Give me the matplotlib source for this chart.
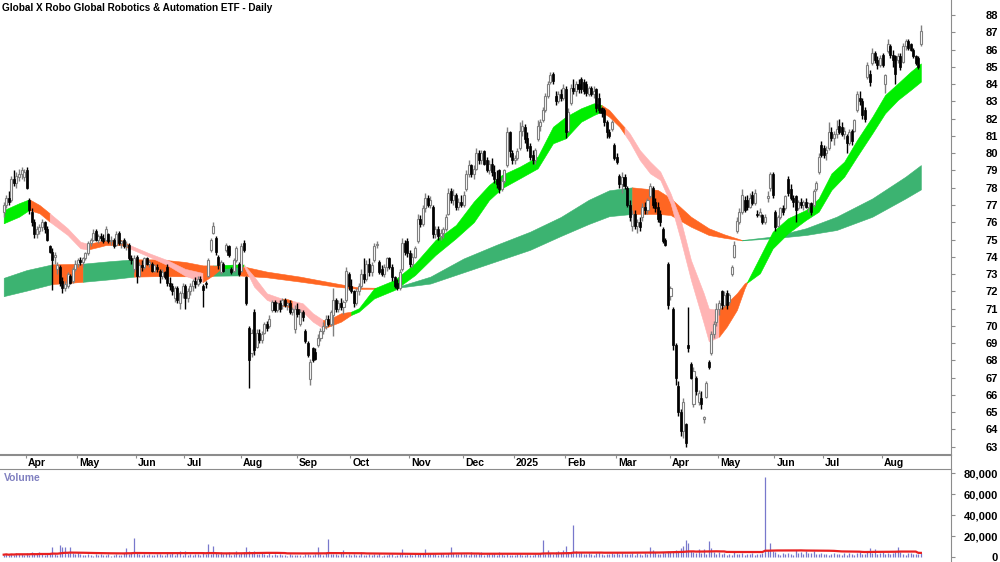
#-----------------------------------------------------------------------------#
# Global X Robo Global Robotics & Automation ETF - daily candles with
# trend ribbons and volume (Mar 2024 - Aug 2025)
#-----------------------------------------------------------------------------#

import numpy as np
import pandas as pd
import matplotlib
matplotlib.use('Agg')
import matplotlib.pyplot as plt
from matplotlib.lines import Line2D
from matplotlib.ticker import FuncFormatter
from matplotlib.transforms import blended_transform_factory

plt.rcParams['font.family'] = ['Liberation Sans', 'DejaVu Sans']
plt.rcParams['font.weight'] = 'bold'

#-----------------------------------------------------------------------------#
# Price data, one value per trading day
#-----------------------------------------------------------------------------#

opens = [
    76.6, 77.0, 77.4, 77.3, 78.5, 78.3, 78.6, 78.8, 78.6,  # Mar 24
    79.0, 77.3, 76.6, 76.0, 75.3, 75.5, 75.7, 76.0, 75.6, 74.6, 74.3, 74.0, 73.3, 73.4, 72.6, 72.2, 72.3, 72.9, 72.6, 73.3, 73.6, 73.8,
    73.7, 73.9, 74.2, 74.8, 75.0, 75.5, 75.0, 75.2, 75.1, 75.0, 75.3, 74.9, 75.0, 74.7, 75.4, 74.8, 75.0, 74.6, 74.7, 73.9, 73.3, 74.0,
    72.9, 73.5, 73.4, 73.9, 73.6, 73.6, 73.2, 73.4, 73.2, 72.9, 73.1, 73.4, 72.5, 72.3, 71.6, 72.2, 71.3, 71.9, 72.3,
    71.6, 72.0, 72.3, 72.6, 72.4, 72.7, 72.3, 72.5, 72.9, 74.4, 75.4, 75.1, 74.0, 73.1, 73.6, 74.4, 74.6, 73.3, 73.2, 73.8, 73.6, 73.2,
    74.8, 72.8, 69.9, 68.4, 70.8, 68.8, 69.6, 69.2, 69.6, 70.1, 70.0, 70.9, 71.4, 70.9, 71.3, 71.2, 71.5, 71.2, 71.3, 70.8, 69.8, 71.0,
    70.1, 70.8, 69.7, 69.0, 66.9, 68.7, 68.5, 68.9, 69.3, 69.7, 70.0, 70.4, 70.1, 70.6, 71.5, 71.0, 71.3, 71.1, 71.5, 73.0,
    72.3, 72.0, 71.3, 72.0, 72.3, 73.0, 72.7, 73.6, 73.1, 73.8, 74.7, 73.7, 73.3, 73.0, 73.4, 73.9, 73.4, 72.8, 72.5, 72.2, 73.3, 74.8, 74.9,
    74.2, 73.6, 74.0, 74.9, 76.2, 75.9, 76.8, 77.4, 77.0, 76.9, 75.3, 75.6, 75.2, 75.4, 75.6, 76.5, 77.8, 77.3, 77.6, 76.9,
    77.2, 77.0, 77.9, 78.8, 79.3, 78.8, 79.1, 80.0, 79.6, 80.1, 79.6, 79.0, 79.4, 78.9, 78.5, 79.0, 77.9, 78.4, 79.3, 81.2, 80.0,
    79.6, 79.7, 80.3, 81.3, 81.5, 80.9, 80.4, 79.9, 79.6, 80.8, 81.6, 81.9, 82.5, 83.3, 84.1, 84.6, 83.3, 83.0, 83.4, 83.2,
    83.7, 81.3, 82.9, 83.8, 83.6, 84.0, 84.3, 84.1, 84.0, 83.4, 83.8, 83.4, 83.7, 83.2, 82.6, 82.5, 81.8, 81.2, 81.4,
    80.5, 79.8, 78.7, 78.2, 78.6, 78.0, 77.0, 75.8, 76.5, 75.8, 76.0, 76.3, 76.9, 76.7, 77.5, 78.0, 77.2, 76.9, 76.5, 75.6, 75.0,
    73.6, 71.7, 71.0, 68.9, 66.5, 65.0, 63.9, 64.3, 68.9, 67.8, 65.5, 67.0, 65.6, 65.8, 64.6, 65.9, 67.9, 68.4, 69.5, 70.2, 71.0,
    72.0, 71.2, 71.9, 71.4, 73.0, 74.0, 75.5, 76.0, 76.6, 77.3, 77.3, 76.9, 77.6, 77.1, 76.5, 76.4, 76.4, 76.0, 77.4, 78.0, 78.8,
    76.6, 75.8, 76.3, 76.8, 76.8, 78.5, 77.9, 77.4, 77.5, 76.8, 77.2, 77.0, 77.2, 76.9, 77.1, 77.0, 77.9, 78.9, 80.5, 80.3,
    80.0, 80.3, 81.2, 80.9, 81.1, 81.6, 81.5, 81.1, 81.0, 80.6, 81.3, 81.3, 82.5, 83.2, 83.0, 82.5, 84.4, 84.6, 85.2, 85.8, 85.4, 85.1,
    85.7, 84.0, 85.9, 86.2, 85.7, 85.6, 85.4, 85.6, 85.3, 86.2, 86.5, 86.3, 86.0, 85.6, 85.5, 86.3,
]
highs = [
    77.2, 77.6, 77.8, 78.7, 79.0, 78.9, 79.1, 79.2, 79.1,
    79.2, 77.4, 76.8, 76.2, 75.8, 75.9, 76.2, 76.1, 75.8, 74.7, 74.5, 74.3, 73.7, 73.5, 72.8, 72.6, 73.1, 73.0, 73.4, 73.8, 73.9, 74.0,
    74.0, 74.3, 74.9, 75.1, 75.6, 75.6, 75.3, 75.4, 75.3, 75.8, 75.4, 75.2, 75.1, 75.5, 75.5, 75.0, 75.1, 74.9, 74.8, 74.1, 74.1, 74.1,
    73.7, 73.8, 74.0, 74.0, 73.8, 73.7, 73.6, 73.6, 73.3, 73.3, 73.2, 73.6, 72.8, 72.5, 72.3, 72.3, 72.0, 72.5, 72.4,
    72.2, 72.5, 72.7, 72.8, 72.9, 72.9, 72.4, 72.6, 73.9, 75.1, 76.0, 75.2, 74.1, 73.8, 73.7, 74.8, 74.7, 73.4, 73.9, 74.6, 73.7, 74.8,
    75.0, 72.9, 70.0, 69.8, 71.0, 69.8, 69.8, 69.7, 70.2, 70.3, 70.6, 71.5, 71.5, 71.4, 71.5, 71.6, 71.6, 71.4, 71.5, 71.1, 71.2, 71.3,
    71.0, 70.9, 69.8, 69.1, 68.1, 68.8, 68.7, 69.5, 69.9, 70.2, 70.6, 70.6, 70.9, 72.2, 71.6, 71.5, 71.6, 71.5, 73.4, 73.1,
    72.7, 72.1, 72.2, 72.5, 73.3, 73.9, 73.8, 73.9, 73.7, 74.8, 74.9, 73.8, 73.5, 73.6, 74.0, 74.0, 73.6, 72.9, 72.7, 73.3, 75.1, 75.0, 75.1,
    74.4, 74.2, 74.6, 76.5, 76.4, 77.0, 77.7, 77.6, 77.5, 77.0, 75.8, 75.8, 75.6, 75.7, 76.5, 78.0, 78.0, 77.9, 77.7, 77.4,
    77.6, 77.8, 79.0, 79.6, 79.4, 79.3, 80.3, 80.2, 80.2, 80.2, 79.8, 79.6, 79.7, 79.3, 79.0, 79.1, 78.6, 79.1, 81.5, 81.3, 80.2,
    79.9, 80.3, 81.8, 81.9, 81.7, 81.2, 80.6, 80.2, 80.3, 81.9, 82.0, 82.7, 83.5, 84.2, 84.7, 84.7, 83.6, 83.6, 83.7, 84.0,
    83.9, 82.6, 84.0, 84.3, 84.2, 84.3, 84.4, 84.3, 84.2, 83.9, 83.9, 83.9, 83.8, 83.5, 82.7, 82.6, 81.9, 81.4, 81.9,
    80.6, 80.0, 78.8, 78.9, 78.8, 78.1, 77.3, 76.7, 76.7, 76.2, 76.3, 77.1, 77.2, 77.4, 78.3, 78.1, 77.4, 77.2, 76.7, 75.7, 75.1,
    73.7, 72.3, 71.1, 69.0, 66.8, 65.2, 65.8, 64.4, 71.1, 67.9, 67.6, 67.1, 66.3, 66.2, 64.8, 66.8, 68.0, 69.7, 70.3, 71.3, 71.5,
    72.1, 72.0, 72.1, 71.9, 73.5, 74.9, 76.3, 76.8, 77.9, 77.5, 77.6, 77.7, 77.8, 77.9, 76.7, 76.8, 76.5, 76.5, 77.8, 78.9, 78.9,
    76.7, 76.4, 76.9, 77.0, 77.6, 78.7, 78.2, 77.6, 77.6, 77.3, 77.4, 77.3, 77.4, 77.2, 77.2, 77.9, 78.4, 80.0, 80.7, 80.5,
    80.4, 81.8, 81.5, 81.3, 81.9, 82.0, 81.8, 81.5, 81.1, 81.4, 81.4, 82.0, 83.6, 83.6, 83.2, 82.7, 85.3, 84.8, 86.1, 85.9, 85.6, 85.7,
    85.8, 84.6, 86.6, 86.3, 86.0, 85.7, 85.8, 85.8, 86.4, 86.6, 86.6, 86.4, 86.1, 85.7, 85.6, 87.4,
]
lows = [
    76.3, 76.8, 77.0, 77.2, 78.1, 78.0, 78.4, 78.5, 78.4,
    77.9, 76.5, 75.8, 75.1, 75.1, 75.3, 75.5, 75.4, 74.9, 74.2, 72.1, 73.6, 73.0, 72.3, 71.9, 72.0, 72.2, 72.4, 72.5, 73.2, 73.4, 73.5,
    73.4, 73.8, 74.1, 74.6, 74.9, 74.9, 74.8, 74.9, 74.8, 74.9, 74.8, 74.7, 74.5, 74.6, 74.7, 74.5, 74.5, 74.4, 73.8, 73.6, 73.1, 72.5,
    72.8, 73.2, 73.3, 73.5, 73.4, 73.1, 73.1, 73.1, 72.5, 72.7, 72.7, 72.3, 72.1, 71.8, 71.4, 71.3, 71.0, 71.6, 71.0,
    71.4, 71.8, 72.0, 72.2, 72.3, 72.5, 71.1, 72.2, 72.8, 74.3, 75.3, 74.1, 73.3, 73.0, 73.1, 74.3, 74.0, 73.0, 73.1, 73.7, 72.9, 73.1,
    74.3, 71.2, 66.4, 68.2, 68.3, 68.7, 69.0, 69.0, 69.5, 69.7, 69.9, 70.8, 70.8, 70.8, 70.8, 71.0, 71.1, 70.9, 70.7, 70.6, 69.6, 70.5,
    70.0, 70.3, 69.0, 68.2, 66.6, 67.9, 68.0, 68.8, 69.1, 69.5, 69.8, 70.0, 70.0, 69.4, 70.8, 70.8, 70.9, 70.7, 71.4, 72.1,
    71.9, 71.1, 71.2, 71.8, 72.2, 72.5, 72.6, 72.9, 72.9, 73.7, 74.5, 73.0, 72.9, 72.8, 73.2, 73.3, 72.6, 72.2, 72.1, 72.1, 73.2, 74.1, 74.0,
    73.4, 73.4, 73.9, 74.8, 75.7, 75.8, 76.6, 76.9, 76.8, 75.1, 75.1, 75.0, 75.0, 75.1, 75.5, 76.4, 77.1, 77.0, 76.7, 76.7,
    76.9, 76.9, 77.8, 78.6, 78.6, 78.5, 79.0, 79.4, 79.4, 79.3, 78.9, 78.8, 78.7, 78.3, 78.0, 77.7, 77.8, 78.3, 79.2, 79.8, 79.4,
    79.4, 79.6, 80.2, 81.0, 80.6, 80.1, 79.6, 79.4, 79.4, 80.7, 81.3, 81.8, 82.4, 83.2, 84.0, 84.0, 82.8, 82.9, 83.0, 83.1,
    80.9, 81.2, 82.8, 83.4, 83.3, 83.5, 83.5, 83.4, 83.3, 83.3, 83.3, 83.2, 82.4, 82.3, 82.1, 81.6, 80.9, 80.9, 81.3,
    79.6, 79.4, 78.0, 77.7, 77.9, 76.9, 76.1, 75.5, 75.6, 75.4, 75.5, 76.1, 76.5, 76.5, 77.4, 76.8, 76.6, 76.0, 75.8, 74.8, 74.6,
    71.0, 71.5, 68.6, 66.6, 64.8, 63.6, 63.5, 63.0, 68.5, 66.9, 65.3, 66.0, 65.4, 65.2, 64.4, 65.8, 67.5, 68.3, 69.3, 70.0, 70.6,
    71.0, 71.1, 71.0, 71.2, 72.9, 73.9, 75.4, 75.9, 76.5, 76.6, 76.7, 76.8, 77.0, 77.0, 76.3, 76.3, 75.9, 75.9, 77.2, 77.8, 77.4,
    75.5, 75.7, 76.2, 76.4, 76.7, 77.5, 77.3, 76.9, 76.0, 76.7, 76.8, 76.7, 76.8, 76.6, 76.4, 76.9, 77.8, 78.8, 79.8, 79.7,
    79.6, 80.2, 80.7, 80.5, 80.9, 81.1, 81.0, 80.8, 80.0, 80.5, 80.5, 81.2, 82.4, 82.8, 82.0, 81.8, 84.3, 83.9, 85.1, 85.2, 84.9, 85.0,
    85.0, 83.5, 85.8, 85.5, 85.0, 84.0, 85.2, 84.8, 85.2, 86.0, 86.0, 85.9, 85.5, 85.1, 84.9, 86.2,
]
closes = [
    77.0, 77.4, 77.2, 78.5, 78.3, 78.7, 78.8, 79.0, 78.9,
    78.0, 76.7, 76.0, 75.3, 75.6, 75.7, 76.0, 75.6, 75.0, 74.3, 73.8, 74.1, 73.5, 72.5, 72.2, 72.4, 73.0, 72.5, 73.3, 73.6, 73.8, 73.7,
    73.9, 74.2, 74.8, 75.0, 75.4, 75.0, 75.2, 75.1, 74.9, 75.6, 74.9, 75.0, 74.6, 75.3, 74.8, 74.9, 74.6, 74.7, 73.9, 73.8, 73.9, 72.9,
    73.5, 73.4, 73.9, 73.6, 73.7, 73.2, 73.5, 73.3, 72.9, 73.1, 72.8, 72.5, 72.3, 72.0, 72.2, 71.5, 71.9, 72.3, 71.6,
    72.0, 72.3, 72.6, 72.4, 72.7, 72.6, 72.1, 72.4, 73.8, 75.0, 75.8, 74.3, 73.5, 73.7, 73.2, 74.7, 74.1, 73.1, 73.8, 74.5, 73.0, 74.6,
    74.4, 71.3, 68.0, 69.6, 68.6, 69.6, 69.2, 69.5, 70.1, 69.9, 70.4, 71.4, 70.9, 71.3, 71.0, 71.5, 71.2, 71.3, 70.8, 71.0, 71.0, 70.7,
    70.8, 70.5, 69.1, 68.3, 67.9, 68.0, 68.1, 69.3, 69.7, 70.0, 70.4, 70.1, 70.8, 71.5, 71.0, 71.3, 71.1, 71.4, 73.2, 72.3,
    72.0, 71.3, 72.0, 72.3, 73.0, 72.7, 73.6, 73.1, 73.5, 74.6, 74.7, 73.1, 73.0, 73.4, 73.9, 73.4, 72.8, 72.3, 72.2, 73.1, 74.8, 74.3, 74.2,
    73.6, 74.0, 74.5, 76.2, 75.9, 76.8, 77.4, 77.0, 77.3, 75.3, 75.6, 75.2, 75.4, 75.6, 76.3, 77.7, 77.3, 77.6, 76.9, 77.2,
    77.0, 77.6, 78.8, 79.3, 78.8, 79.1, 80.0, 79.6, 80.0, 79.4, 79.0, 79.4, 78.9, 78.5, 78.2, 77.9, 78.4, 79.0, 81.2, 80.1, 79.6,
    79.7, 80.1, 81.3, 81.6, 80.8, 80.3, 79.8, 79.6, 80.2, 81.6, 81.8, 82.5, 83.3, 84.0, 84.5, 84.2, 83.0, 83.4, 83.2, 83.8,
    81.2, 82.4, 83.8, 83.6, 84.0, 83.7, 83.7, 83.6, 83.5, 83.8, 83.4, 83.6, 82.6, 82.5, 82.3, 81.8, 81.2, 81.0, 81.8,
    79.7, 79.5, 78.2, 78.6, 78.1, 77.0, 76.3, 76.5, 75.8, 76.0, 75.7, 76.9, 76.7, 77.3, 78.1, 77.0, 76.8, 76.2, 76.0, 74.9, 74.7,
    71.2, 72.2, 68.9, 67.0, 65.0, 63.9, 65.6, 63.2, 68.7, 67.0, 67.4, 66.2, 66.1, 65.5, 64.7, 66.7, 67.6, 69.5, 70.1, 71.0, 71.3,
    71.2, 71.8, 71.2, 71.8, 73.4, 74.7, 76.1, 76.6, 77.6, 76.7, 76.9, 77.4, 77.1, 77.7, 76.4, 76.6, 76.0, 76.3, 77.5, 78.8, 77.6,
    75.7, 76.3, 76.8, 76.6, 77.5, 77.7, 77.4, 77.2, 76.7, 77.2, 77.0, 77.2, 76.9, 77.1, 76.6, 77.8, 78.3, 79.8, 79.9, 79.9,
    80.2, 81.2, 80.9, 81.1, 81.4, 81.2, 81.1, 81.3, 80.6, 81.2, 80.7, 81.9, 83.4, 83.0, 82.2, 82.0, 85.1, 84.1, 85.8, 85.4, 85.1, 85.5,
    85.1, 84.5, 86.3, 85.7, 85.4, 84.6, 85.6, 85.0, 86.2, 86.5, 86.1, 86.0, 85.6, 85.2, 85.0, 87.1,
]

# volume in thousands of shares
volume_k = [
    2.5, 3.1, 1.8, 3.6, 2.2, 4.0, 2.9, 3.3, 2.0,
    3.8, 2.4, 4.6, 3.0, 2.7, 5.2, 3.4, 2.1, 4.1, 3.5, 10.2, 3.0, 2.6, 11.5, 9.8, 10.1, 4.3, 9.6, 3.9, 2.8, 5.0, 3.2,
    2.2, 1.9, 3.0, 2.5, 1.6, 2.8, 2.0, 3.3, 1.8, 2.4, 2.9, 1.7, 2.6, 3.1, 2.0, 2.3, 4.0, 9.2, 3.5, 5.1, 18.3, 4.4,
    3.0, 2.1, 2.7, 1.9, 3.4, 2.4, 2.0, 2.9, 3.6, 2.2, 1.8, 4.8, 3.1, 5.5, 2.6, 3.9, 6.0, 2.3, 5.7,
    2.4, 3.0, 2.0, 2.7, 3.5, 2.2, 4.1, 2.9, 12.2, 3.6, 10.6, 4.5, 3.2, 5.0, 2.8, 3.7, 4.6, 2.5, 3.3, 6.1, 2.9, 3.8,
    5.4, 9.4, 6.2, 4.8, 5.7, 3.6, 2.9, 4.4, 3.1, 2.5, 3.8, 2.2, 2.7, 1.9, 3.0, 2.4, 2.1, 1.6, 2.8, 2.0, 1.8, 2.6,
    2.3, 1.7, 2.9, 3.4, 2.5, 2.0, 2.8, 10.1, 3.2, 2.4, 4.2, 17.2, 3.6, 2.7, 3.3, 2.1, 4.0, 6.6, 2.6, 3.0,
    2.2, 3.5, 1.9, 2.6, 4.8, 2.0, 2.4, 3.1, 1.8, 2.7, 2.2, 3.9, 1.6, 2.5, 2.0, 2.9, 3.3, 1.7, 2.4, 3.0, 7.6, 2.6, 2.1,
    3.2, 2.5, 4.4, 3.6, 2.8, 3.9, 8.1, 3.0, 4.5, 2.7, 3.3, 2.2, 4.0, 3.4, 2.6, 3.8, 9.6, 4.1, 2.9, 3.5,
    4.0, 2.8, 3.5, 2.3, 4.6, 3.1, 2.7, 3.9, 5.2, 2.5, 3.4, 4.3, 2.9, 3.7, 2.2, 4.8, 3.0, 2.6, 3.3, 1.9, 2.4,
    2.0, 2.7, 3.6, 2.3, 1.8, 3.0, 2.5, 2.1, 3.4, 2.8, 4.2, 16.1, 3.5, 7.2, 4.4, 3.1, 5.0, 6.4, 3.9, 6.9,
    10.3, 5.1, 4.3, 30.6, 5.6, 3.8, 4.9, 3.2, 2.9, 4.1, 3.5, 2.6, 3.9, 4.7, 3.0, 2.4, 3.6, 2.8, 4.4,
    3.3, 5.0, 2.7, 4.2, 3.6, 2.9, 3.1, 4.5, 2.6, 3.8, 3.4, 2.5, 4.0, 3.2, 9.6, 7.1, 4.6, 3.5, 3.0, 5.4, 4.1,
    6.2, 4.8, 5.5, 7.3, 6.0, 9.1, 10.4, 16.3, 13.2, 5.9, 4.7, 3.8, 8.2, 4.4, 8.0, 3.6, 16.0, 9.3, 4.9, 3.4, 5.2,
    3.0, 4.1, 2.6, 3.5, 2.2, 4.6, 3.3, 2.8, 3.9, 2.4, 3.1, 2.7, 4.0, 2.3, 3.6, 2.9, 4.4, 76.0, 7.0, 13.5, 5.8,
    4.9, 3.4, 2.6, 3.8, 2.9, 4.5, 3.2, 2.5, 6.6, 3.7, 5.1, 2.8, 6.1, 3.9, 4.3, 5.6, 2.7, 3.5, 4.2, 3.0,
    3.6, 2.4, 3.1, 4.0, 2.7, 3.3, 2.2, 3.8, 2.6, 4.4, 3.0, 2.5, 3.7, 4.6, 3.2, 2.9, 5.3, 9.0, 4.1, 8.0, 3.4, 4.5,
    5.0, 3.6, 4.2, 2.8, 3.9, 5.4, 10.1, 4.7, 3.1, 2.6, 3.8, 4.3, 2.9, 3.5, 3.2, 4.0,
]

# bars in each month shown (first one is the tail of March 2024)
month_bars = [9, 20, 23, 19, 22, 22, 21, 23, 21, 20, 20, 20, 21, 19, 22, 19, 23, 16]
month_labels = ['Apr', 'May', 'Jun', 'Jul', 'Aug', 'Sep', 'Oct', 'Nov', 'Dec',
                '2025', 'Feb', 'Mar', 'Apr', 'May', 'Jun', 'Jul', 'Aug']

#-----------------------------------------------------------------------------#
# Trend ribbons (bar index, upper edge, lower edge, trend)
# trend: G = up, O = mixed, P = down
#-----------------------------------------------------------------------------#

fast_idx = [0, 6, 10, 14, 18, 25, 30, 33, 38, 40, 46, 49, 57, 64, 71, 78, 82, 85, 90, 94,
            98, 103, 109, 111, 113, 117, 121, 125, 127, 132, 136, 139, 145, 153, 161, 169,
            177, 184, 190, 195, 202, 209, 215, 220, 226, 231, 234, 237, 241, 243, 245, 249,
            253, 257, 261, 265, 269, 274, 276, 280, 283, 287, 290, 291, 296, 301, 307, 314,
            319, 324, 329, 334, 340, 345, 350, 355, 359]
fast_top = [76.70, 77.10, 77.33, 77.00, 76.52, 75.65, 74.87, 74.75, 74.90, 74.97, 74.97,
            74.70, 74.20, 73.81, 73.30, 73.06, 73.47, 73.50, 73.55, 73.55, 72.85, 71.88,
            71.57, 71.55, 71.45, 71.31, 70.73, 70.34, 70.34, 70.73, 70.82, 71.02, 72.17,
            72.66, 73.62, 74.97, 75.84, 77.20, 78.16, 78.74, 79.22, 79.80, 81.53, 82.11,
            82.60, 82.89, 82.79, 82.50, 81.82, 81.50, 81.15, 80.18, 79.51, 78.93, 77.68,
            76.13, 73.81, 71.89, 71.00, 70.92, 71.31, 71.89, 72.46, 72.55, 74.00, 75.45,
            76.23, 76.71, 77.38, 78.83, 79.51, 80.76, 82.11, 83.37, 84.04, 84.72, 85.20]
fast_bot = [75.94, 76.32, 76.71, 76.52, 76.03, 75.26, 74.49, 74.42, 74.60, 74.68, 74.68,
            74.50, 74.00, 73.52, 72.90, 72.54, 72.94, 73.30, 73.40, 73.45, 72.27, 71.50,
            71.16, 71.12, 71.00, 70.82, 70.24, 69.86, 69.95, 70.24, 70.63, 70.82, 71.59,
            72.08, 72.94, 74.10, 75.07, 76.00, 77.29, 77.97, 78.54, 79.12, 80.57, 80.86,
            81.82, 82.21, 82.40, 82.11, 81.53, 81.10, 80.66, 79.60, 78.83, 78.45, 77.10,
            74.97, 72.66, 70.15, 69.10, 69.37, 69.95, 70.92, 72.17, 72.50, 73.04, 74.48,
            75.36, 76.13, 76.61, 77.87, 78.64, 79.80, 81.15, 82.31, 83.08, 83.66, 84.14]
fast_trend = 'GGOOPPPOOOOPPPPOOGGPPPOOPPPOOO' + 'G' * 16 + 'OOO' + 'P' * 10 + 'OOOO' + 'G' * 14

slow_idx = [0, 9, 19, 31, 42, 51, 61, 71, 78, 82, 92, 103, 116, 130, 139, 149, 155, 167,
            180, 193, 206, 218, 229, 237, 246, 256, 261, 269, 276, 282, 289, 301, 314, 326,
            340, 353, 359]
slow_top = [72.78, 73.23, 73.56, 73.60, 73.75, 73.85, 73.85, 73.70, 73.50, 73.50, 73.50,
            73.14, 72.85, 72.46, 72.22, 72.20, 72.30, 72.85, 73.90, 74.70, 75.45, 76.30,
            77.30, 77.85, 78.02, 77.87, 77.40, 76.32, 75.65, 75.30, 74.97, 75.17, 75.65,
            76.32, 77.38, 78.64, 79.31]
slow_bot = [71.72, 72.04, 72.42, 72.55, 72.70, 72.85, 72.88, 72.87, 72.88, 72.90, 72.92,
            72.81, 72.56, 72.27, 72.14, 72.15, 72.22, 72.45, 73.10, 73.75, 74.40, 75.20,
            75.90, 76.35, 76.48, 76.48, 76.42, 75.74, 75.26, 75.10, 74.95, 75.07, 75.26,
            75.55, 76.32, 77.38, 77.90]
slow_trend = 'GGOGGOOOOGOOOOOOGGGGGGGGOOOOOOGGGGGGG'

#-----------------------------------------------------------------------------#
# Figure layout
#-----------------------------------------------------------------------------#

o = np.array(opens)
h = np.array(highs)
l = np.array(lows)
c = np.array(closes)
vol = np.array(volume_k) * 1000
x = np.arange(len(c))
up = c >= o
dn = ~up

grey = '#8c8c8c'
fig = plt.figure(figsize=(10, 5.62), dpi=100)
ax = fig.add_axes([0, 1 - 455 / 562, 0.951, 455 / 562])
axv = fig.add_axes([0, 0, 0.951, 93 / 562])
# right hand scale line runs through the date band as well
fig.add_artist(Line2D([0.951, 0.951], [93 / 562, 1 - 455 / 562], color=grey, linewidth=0.8))

#-----------------------------------------------------------------------------#
# Ribbons (drawn as runs of the same trend colour)
#-----------------------------------------------------------------------------#

def draw_ribbon(idx, top, bot, trend, colours, z):
    k = 0
    while k < len(idx) - 1:
        j = k
        while j < len(idx) - 1 and trend[j] == trend[k]:
            j = j + 1
        ax.fill_between(idx[k:j + 1], bot[k:j + 1], top[k:j + 1],
                        facecolor=colours[trend[k]], edgecolor=colours[trend[k]],
                        linewidth=0.4, zorder=z)
        k = j

draw_ribbon(slow_idx, slow_top, slow_bot, slow_trend,
            {'G': '#3cb371', 'O': '#ff6622', 'P': '#ffb4b4'}, 1)
draw_ribbon(fast_idx, fast_top, fast_bot, fast_trend,
            {'G': '#00ee00', 'O': '#ff6622', 'P': '#ffb4b4'}, 2)

#-----------------------------------------------------------------------------#
# Candles
#-----------------------------------------------------------------------------#

ax.vlines(x[up], l[up], h[up], color='#808080', linewidth=1.0, zorder=3)
ax.vlines(x[dn], l[dn], h[dn], color='black', linewidth=1.0, zorder=3)
ax.bar(x[up], np.maximum(c[up] - o[up], 0.03), bottom=o[up], width=0.8,
       facecolor='white', edgecolor='#808080', linewidth=0.8, zorder=4)
ax.bar(x[dn], np.maximum(o[dn] - c[dn], 0.03), bottom=c[dn], width=0.8,
       facecolor='black', edgecolor='black', linewidth=0.5, zorder=4)

ax.set_xlim(-1.45, 370.8)
ax.set_ylim(62.52, 88.87)
ax.yaxis.tick_right()
ax.set_yticks(range(63, 89))
ax.tick_params(axis='y', direction='out', length=3, width=0.8, color=grey,
               labelsize=8, pad=31)
for lab in ax.get_yticklabels():
    lab.set_horizontalalignment('right')

starts = np.cumsum(month_bars)[:-1]
ax.set_xticks(starts - 0.3)
ax.set_xticklabels([])
ax.tick_params(axis='x', direction='out', length=2.5, width=0.8, color=grey)
tr = blended_transform_factory(ax.transData, ax.transAxes)
for s, lab in zip(starts, month_labels):
    ax.text(s + 0.5, -0.0175, lab, transform=tr, ha='left', va='center',
            fontsize=7.5, fontweight='bold')

for side in ['top', 'left']:
    ax.spines[side].set_visible(False)
ax.spines['right'].set_color(grey)
ax.spines['bottom'].set_color(grey)
ax.spines['bottom'].set_linewidth(1.5)

ax.text(0.002, 0.993, 'Global X Robo Global Robotics & Automation ETF - Daily',
        transform=ax.transAxes, ha='left', va='top', fontsize=7.2, fontweight='bold')

#-----------------------------------------------------------------------------#
# Volume with 60 day average
#-----------------------------------------------------------------------------#

vol_ma = pd.Series(vol).rolling(window=60, min_periods=1).mean()
axv.vlines(x, 0, vol, color='#7878cc', linewidth=0.9)
axv.plot(x, vol_ma, color='#e82020', linewidth=1.6)
axv.set_xlim(-1.45, 370.8)
axv.set_ylim(-4476, 84095)
axv.set_xticks([])
axv.yaxis.tick_right()
axv.set_yticks([0, 20000, 40000, 60000, 80000])
axv.yaxis.set_major_formatter(FuncFormatter(lambda v, p: '{:,.0f}'.format(v)))
axv.tick_params(axis='y', direction='out', length=3, width=0.8, color=grey,
                labelsize=8, pad=31)
for lab in axv.get_yticklabels():
    lab.set_horizontalalignment('right')
for side in ['bottom', 'left']:
    axv.spines[side].set_visible(False)
axv.spines['right'].set_color(grey)
axv.spines['top'].set_color(grey)
axv.text(0.004, 0.955, 'Volume', transform=axv.transAxes, ha='left', va='top',
         fontsize=7.5, fontweight='bold', color='#8080c0')

fig.savefig('out.png', dpi=100)
